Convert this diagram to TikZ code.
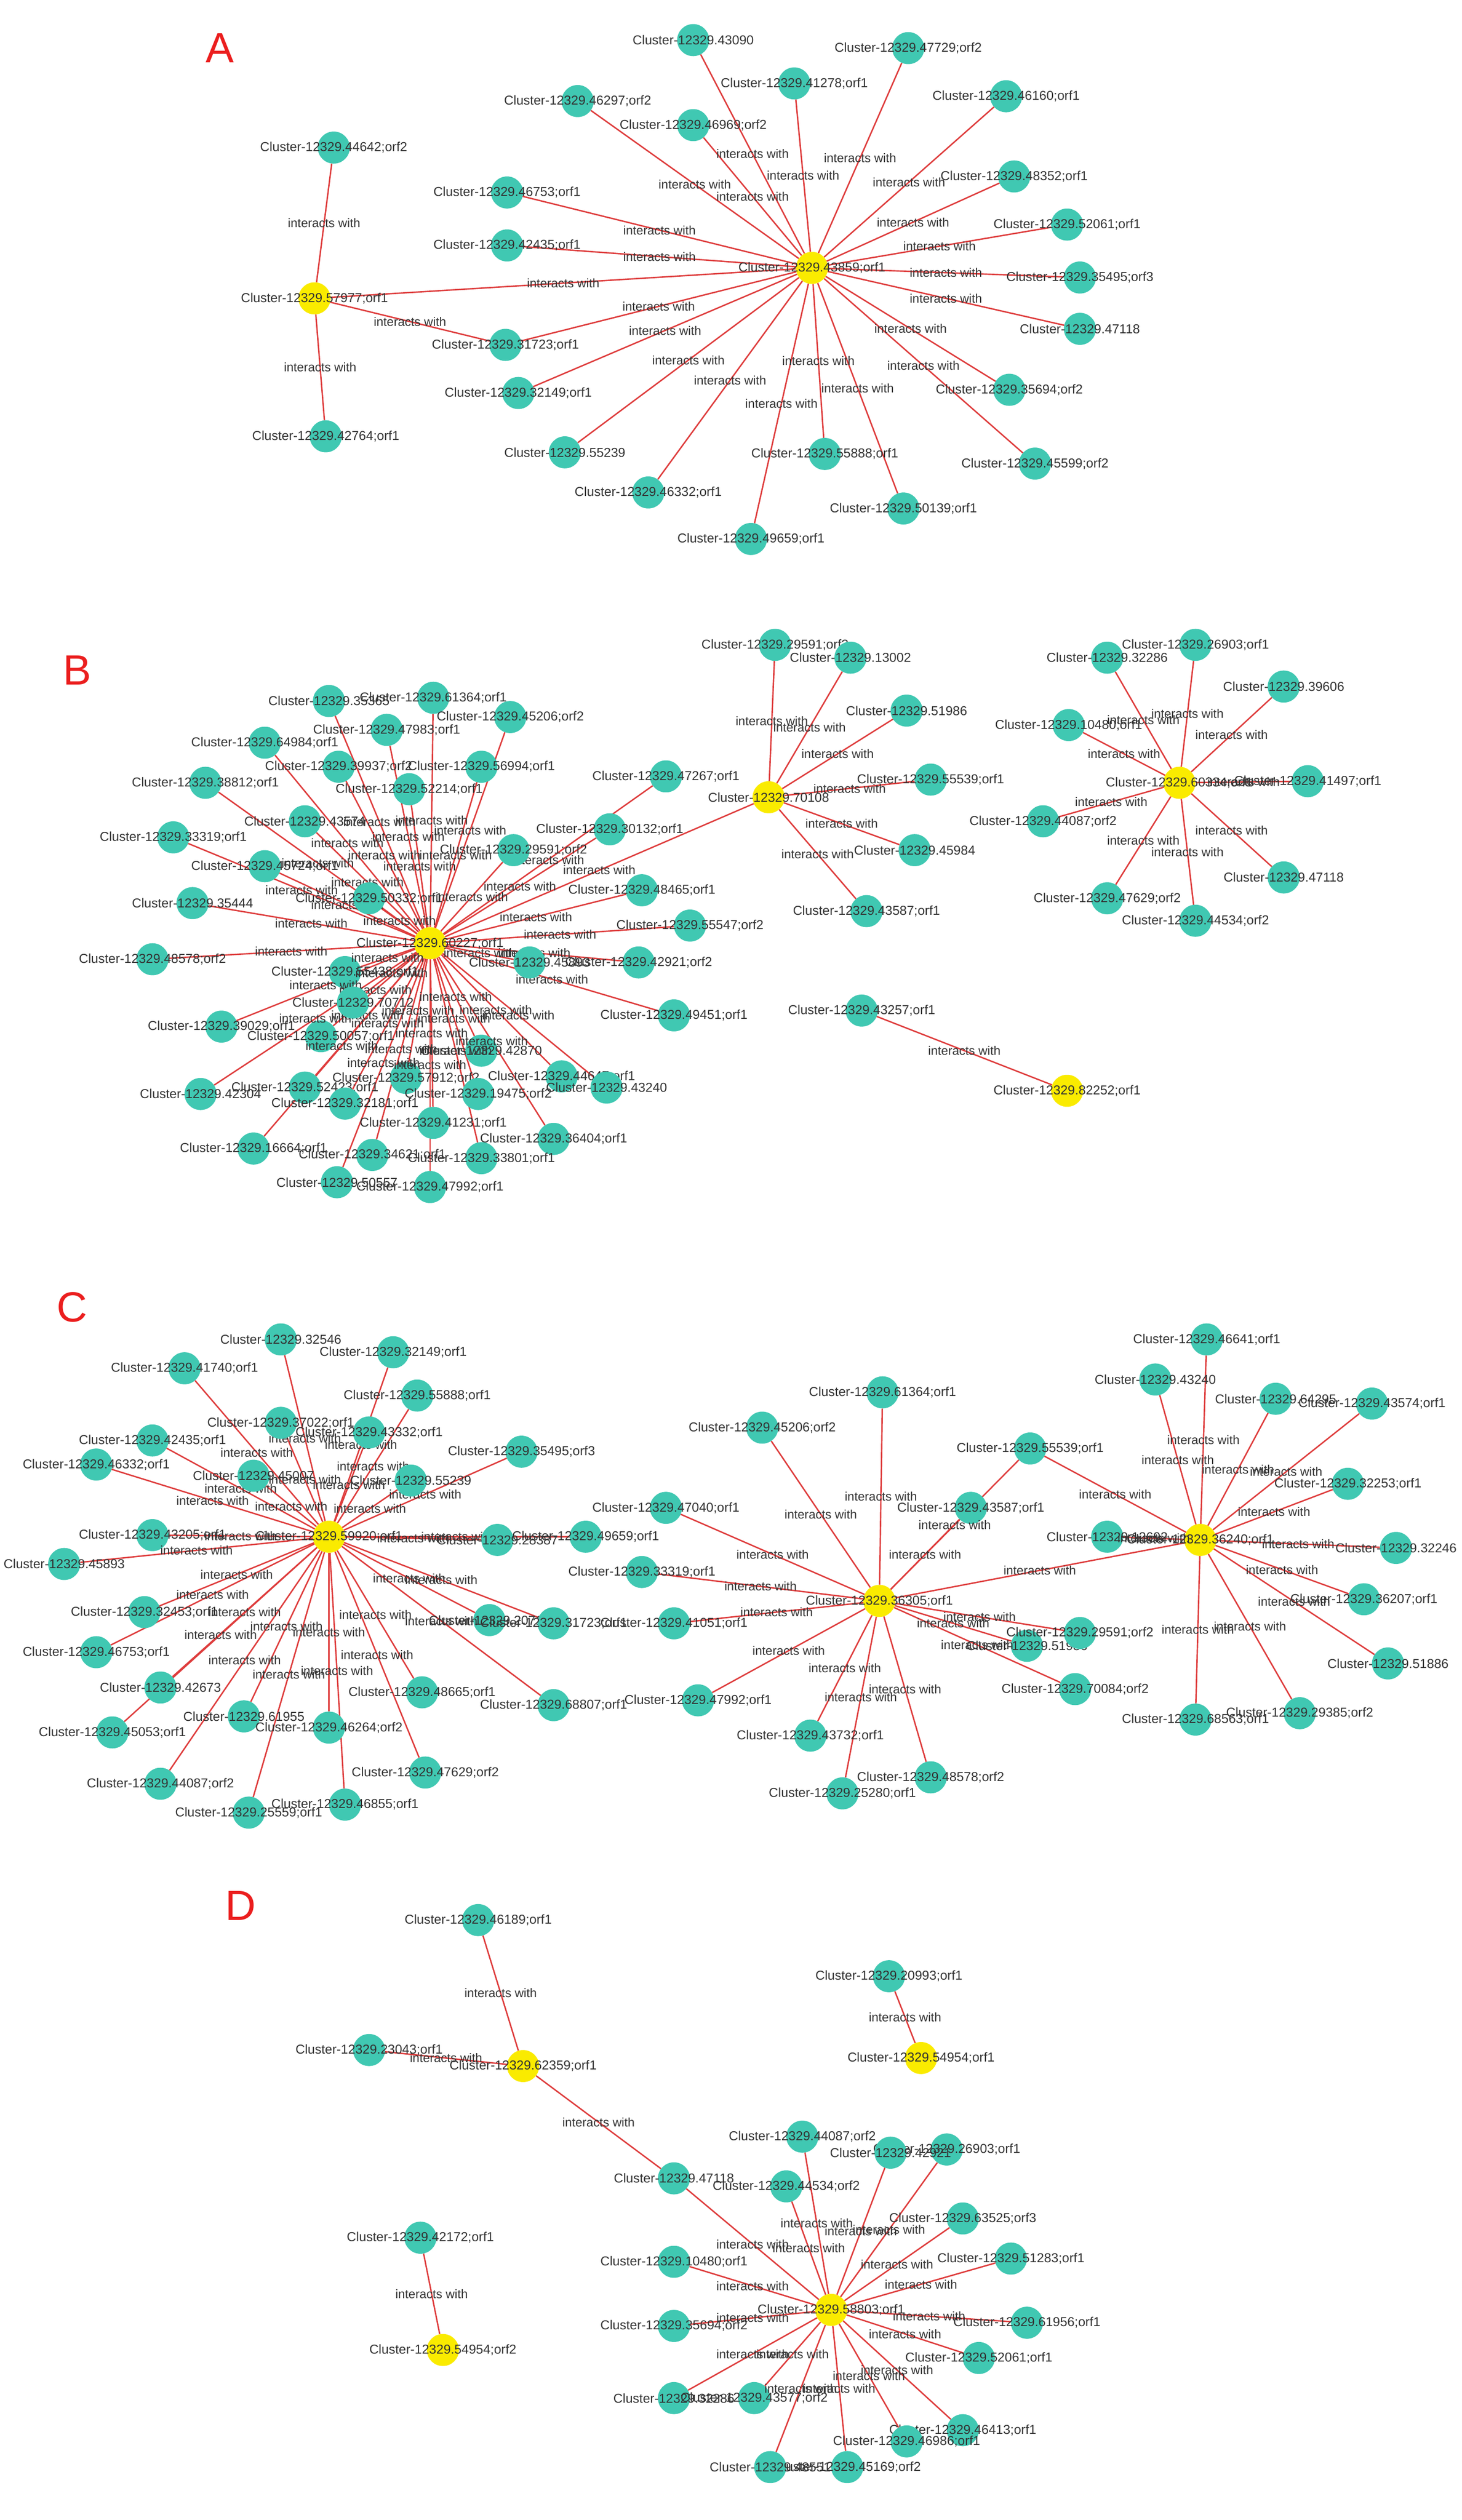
\documentclass[tikz,border=0pt]{standalone}
\usepackage{fontspec}
\setmainfont{Liberation Sans}
\usetikzlibrary{backgrounds}
\definecolor{tealn}{RGB}{64,200,178}
\definecolor{yel}{RGB}{250,235,0}
\definecolor{edg}{RGB}{222,60,60}
\definecolor{lett}{RGB}{235,30,30}
\tikzset{
 leaf/.style={circle,fill=tealn,minimum size=2cm,inner sep=0pt},
 hubn/.style={circle,fill=yel,minimum size=2cm,inner sep=0pt},
 txt/.style={font=\fontsize{23}{26}\selectfont,text=black!80,inner sep=0pt},
 elab/.style={font=\fontsize{22}{24}\selectfont,text=black!80,inner sep=0pt},
 edge/.style={draw=edg,line width=2.5pt},
 letter/.style={font=\fontsize{75}{80}\selectfont,text=lett}
}
\newcommand{\hubnode}[4]{\node[hubn] (#1) at (#3,#4) {}; \node[txt] at (#1) {#2};}
\newcommand{\leaves}[2]{%
 \foreach \t/\x/\y [count=\i] in {#2} {
  \node[leaf] (#1l\i) at (\x,\y) {};
  \node[txt] at (#1l\i) {Cluster-12329.\t};
  \begin{pgfonlayer}{background}\draw[edge] (#1) -- (#1l\i);\end{pgfonlayer}
  \path (#1) -- node[elab]{interacts with} (#1l\i);
 }}
\newcommand{\link}[2]{\begin{pgfonlayer}{background}\draw[edge] (#1) -- (#2);\end{pgfonlayer}\path (#1) -- node[elab]{interacts with} (#2);}
\begin{document}
\begin{tikzpicture}[x=0.1cm,y=-0.1cm]
\useasboundingbox (0,0) rectangle (911,1571);
\clip (0,0) rectangle (911,1571);
% A
\node[letter] at (137,30) {A};
\hubnode{a1}{Cluster-12329.57977;orf1}{196}{186}
\hubnode{a2}{Cluster-12329.43859;orf1}{506}{167}
\leaves{a1}{44642;orf2/208/92, 42764;orf1/203/272}
\link{a1}{a2}
\leaves{a2}{43090/432/25, 47729;orf2/566/30, 41278;orf1/495/52, 46297;orf2/360/63, 46969;orf2/432/78, 46160;orf1/627/60, 48352;orf1/632/110, 46753;orf1/316/120, 52061;orf1/665/140, 42435;orf1/316/153, 35495;orf3/673/173, 47118/673/205, 31723;orf1/315/215, 32149;orf1/323/245, 35694;orf2/629/243, 55239/352/282, 55888;orf1/514/283, 45599;orf2/645/289, 46332;orf1/404/307, 50139;orf1/563/317, 49659;orf1/468/336}
\link{a1}{a2l13}
% B
\node[letter] at (48,418) {B};
\hubnode{b1}{Cluster-12329.60227;orf1}{268}{588}
\hubnode{b2}{Cluster-12329.70108}{479}{497}
\hubnode{b3}{Cluster-12329.60334;orf1}{735}{488}
\hubnode{b4}{Cluster-12329.82252;orf1}{665}{680}
\leaves{b1}{35365/205/437, 61364;orf1/270/435, 45206;orf2/318/447, 47983;orf1/241/455, 64984;orf1/165/463, 39937;orf2/211/478, 56994;orf1/300/478, 38812;orf1/128/488, 52214;orf1/255/492, 47267;orf1/415/484, 33319;orf1/108/522, 43574/190/512, 30132;orf1/380/517, 45724;orf1/165/540, 48465;orf1/400/555, 35444/120/563, 55547;orf2/430/577, 48578;orf2/95/598, 55438;orf1/215/606, 42921;orf2/398/600, 39029;orf1/138/640, 49451;orf1/420/633, 50057;orf1/200/646, 42870/300/655, 42304/125/682, 52423;orf1/190/678, 57912;orf2/253/672, 19475;orf2/298/682, 44647;orf1/350/671, 43240/378/678, 32181;orf1/215/688, 41231;orf1/270/700, 36404;orf1/345/710, 16664;orf1/158/716, 34621;orf1/232/720, 33801;orf1/300/722, 50557/210/737, 47992;orf1/268/740, 29591;orf2/320/530, 50332;orf1/230/560, 45893/330/600, 70712/220/625}
\link{b1}{b2}
\leaves{b2}{29591;orf2/483/402, 13002/530/410, 51986/565/443, 55539;orf1/580/486, 45984/570/530, 43587;orf1/540/568}
\leaves{b3}{32286/690/410, 26903;orf1/745/402, 39606/800/428, 10480;orf1/666/452, 41497;orf1/815/487, 44087;orf2/650/512, 47118/800/547, 47629;orf2/690/560, 44534;orf2/745/574}
\leaves{b4}{43257;orf1/537/630}
% C
\node[letter] at (45,815) {C};
\hubnode{c1}{Cluster-12329.59920;orf1}{205}{958}
\hubnode{c2}{Cluster-12329.36305;orf1}{548}{998}
\hubnode{c3}{Cluster-12329.36240;orf1}{748}{960}
\leaves{c1}{32546/175/835, 32149;orf1/245/843, 41740;orf1/115/853, 55888;orf1/260/870, 37022;orf1/175/887, 43332;orf1/230/893, 35495;orf3/325/905, 42435;orf1/95/898, 46332;orf1/60/913, 45007/158/920, 55239/256/923, 43205;orf1/95/957, 49659;orf1/365/958, 45893/40/975, 28387/310/960, 32453;orf1/90/1005, 20712/305/1010, 31723;orf1/345/1012, 46753;orf1/60/1030, 42673/100/1052, 48665;orf1/263/1055, 61955/152/1070, 68807;orf1/345/1063, 45053;orf1/70/1080, 46264;orf2/205/1077, 47629;orf2/265/1105, 44087;orf2/100/1112, 46855;orf1/215/1125, 25559;orf1/155/1130}
\leaves{c2}{61364;orf1/550/868, 45206;orf2/475/890, 47040;orf1/415/940, 43587;orf1/605/940, 33319;orf1/400/980, 41051;orf1/420/1012, 51986/640/1026, 29591;orf2/673/1018, 47992;orf1/435/1060, 70084;orf2/670/1053, 43732;orf1/505/1082, 48578;orf2/580/1108, 25280;orf1/525/1118}
\leaves{c3}{46641;orf1/752/835, 43240/720/860, 64295/795/872, 43574;orf1/855/875, 55539;orf1/642/903, 32253;orf1/840/925, 12692/690/958, 32246/870/965, 36207;orf1/850/997, 51886/865/1037, 68563;orf1/745/1072, 29385;orf2/810/1068}
\link{c2}{c3}
\link{c2}{c3l5}
% D
\node[letter] at (150,1188) {D};
\hubnode{d1}{Cluster-12329.62359;orf1}{326}{1288}
\hubnode{d2}{Cluster-12329.54954;orf1}{574}{1283}
\hubnode{d3}{Cluster-12329.54954;orf2}{276}{1465}
\hubnode{d4}{Cluster-12329.58803;orf1}{518}{1440}
\leaves{d1}{46189;orf1/298/1197, 23043;orf1/230/1278}
\leaves{d2}{20993;orf1/554/1232}
\leaves{d3}{42172;orf1/262/1395}
\leaves{d4}{47118/420/1358, 44087;orf2/500/1332, 44534;orf2/490/1363, 26903;orf1/590/1340, 42921/555/1342, 63525;orf3/600/1383, 10480;orf1/420/1410, 51283;orf1/630/1408, 61956;orf1/640/1448, 35694;orf2/420/1450, 52061;orf1/610/1470, 32286/420/1495, 43577;orf2/470/1495, 46413;orf1/600/1515, 46986;orf1/565/1522, 45169;orf2/528/1538, 48551/480/1538}
\link{d1}{d4l1}
\end{tikzpicture}
\end{document}
